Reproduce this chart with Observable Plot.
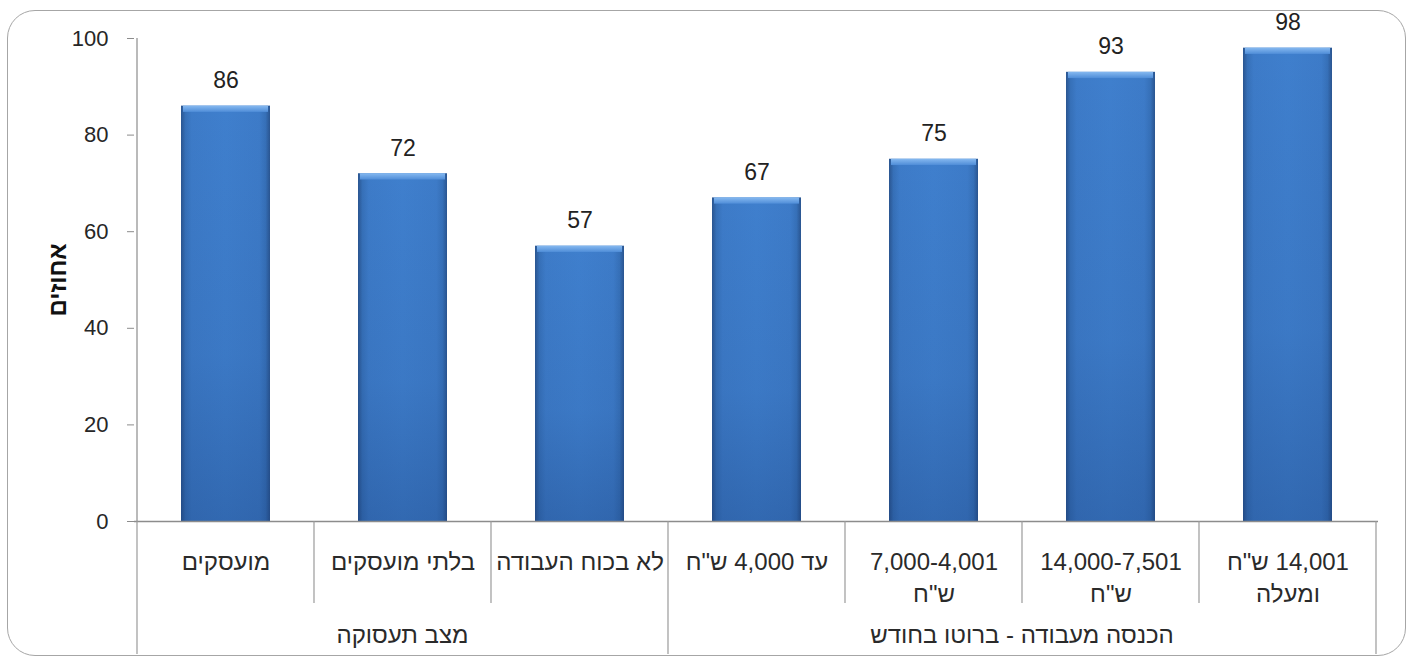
<!DOCTYPE html>
<html><head><meta charset="utf-8">
<script src="https://cdn.jsdelivr.net/npm/d3@7"></script>
<script src="https://cdn.jsdelivr.net/npm/@observablehq/plot@0.6"></script>
<style>
html,body{margin:0;padding:0;background:#fff;overflow:hidden}
#wrap{position:relative;width:1413px;height:662px}
#wrap svg{display:block}
#frame{position:absolute;left:7px;top:10px;width:1399px;height:646px;border:1.5px solid #a6a6a6;border-radius:28px;box-sizing:border-box;pointer-events:none}
</style></head><body><div id="wrap"><div id="frame"></div></div>
<script>
// ---- data ----
const categories = ["מועסקים", "בלתי מועסקים", "לא בכוח העבודה", "עד 4,000 ש\"ח", "7,000-4,001\nש\"ח", "14,000-7,501\nש\"ח", "14,001 ש\"ח\nומעלה"];
const values = [86, 72, 57, 67, 75, 93, 98];
const categoryGroups = ["מצב תעסוקה", "מצב תעסוקה", "מצב תעסוקה", "הכנסה מעבודה - ברוטו בחודש", "הכנסה מעבודה - ברוטו בחודש", "הכנסה מעבודה - ברוטו בחודש", "הכנסה מעבודה - ברוטו בחודש"];
const yTicks = [0, 20, 40, 60, 80, 100];
const yLabel = "אחוזים";

const data = categories.map((c, i) => ({category: c, value: values[i], group: categoryGroups[i]}));

const FONT = "'Liberation Sans', Arial, sans-serif";

// gradient definitions
function defs() {
  const g = d3.create("svg:g");
  const d = g.append("defs");
  const h = d.append("linearGradient").attr("id", "barH").attr("x1", 0).attr("x2", 1).attr("y1", 0).attr("y2", 0);
  [[0, "#2a5590"], [0.05, "#3670b8"], [0.12, "#3d7bc8"], [0.5, "#3f7fcd"], [0.88, "#3d7bc8"], [0.95, "#3670b8"], [1, "#2a5590"]]
    .forEach(([o, c]) => h.append("stop").attr("offset", o).attr("stop-color", c));
  const v = d.append("linearGradient").attr("id", "barV").attr("x1", 0).attr("x2", 0).attr("y1", 0).attr("y2", 1);
  [[0, "#10306a", 0], [0.6, "#10306a", 0.08], [1, "#10306a", 0.28]]
    .forEach(([o, c, a]) => v.append("stop").attr("offset", o).attr("stop-color", c).attr("stop-opacity", a));
  const t = d.append("linearGradient").attr("id", "barT").attr("x1", 0).attr("x2", 0).attr("y1", 0).attr("y2", 1);
  [[0, "#86b9f0"], [1, "#4f8dd8"]]
    .forEach(([o, c]) => t.append("stop").attr("offset", o).attr("stop-color", c));
  return g.node();
}

// hierarchical x axis: dividers, y-axis line, group labels
function decor(index, scales) {
  const x = scales.x, y = scales.y;
  const bw = x.bandwidth ? x.bandwidth() : 0;
  const centers = categories.map(c => x(c) + bw / 2);
  const step = centers[1] - centers[0];
  const bounds = centers.map(c => c - step / 2).concat([centers[centers.length - 1] + step / 2]);
  const y0 = y(0);
  const g = d3.create("svg:g").attr("fill", "none");
  // y axis line
  g.append("line").attr("x1", bounds[0]).attr("x2", bounds[0]).attr("y1", y(yTicks[yTicks.length - 1])).attr("y2", y0)
    .attr("stroke", "#8c8c8c").attr("stroke-width", 1.2);
  bounds.forEach((b, i) => {
    const outer = i === 0 || i === categories.length || categoryGroups[i] !== categoryGroups[i - 1];
    g.append("line").attr("x1", b).attr("x2", b).attr("y1", y0).attr("y2", y0 + (outer ? 133 : 82))
      .attr("stroke", "#9a9a9a").attr("stroke-width", 1.2);
  });
  const groups = [...new Set(categoryGroups)];
  groups.forEach(gn => {
    const idx = categoryGroups.map((c, i) => c === gn ? i : -1).filter(i => i >= 0);
    const cx = (bounds[idx[0]] + bounds[idx[idx.length - 1] + 1]) / 2;
    g.append("text").attr("x", cx).attr("y", y0 + 122).attr("text-anchor", "middle")
      .attr("fill", "#2a2a2a").attr("font-size", 24).attr("direction", "rtl").text(gn);
  });
  return g.node();
}

const chart = Plot.plot({
  width: 1413,
  height: 662,
  marginLeft: 134,
  marginRight: 35,
  marginTop: 38,
  marginBottom: 141,
  style: {fontFamily: FONT, fontSize: "22px", color: "#222", background: "transparent"},
  x: {domain: categories, paddingInner: 0.5, paddingOuter: 0.25, axis: null},
  y: {domain: [0, 100], axis: null},
  marks: [
    defs,
    Plot.axisY({ticks: yTicks, tickSize: 7, tickPadding: 19, stroke: "#8c8c8c", fill: "#262626", fontSize: 22, label: null}),
    Plot.barY(data, {x: "category", y: "value", fill: "url(#barH)"}),
    Plot.barY(data, {x: "category", y: "value", fill: "url(#barV)"}),
    Plot.barY(data, {x: "category", y1: d => d.value - 1.3, y2: "value", fill: "url(#barT)", insetLeft: 2, insetRight: 2}),
    Plot.ruleY([0], {stroke: "#8c8c8c", strokeWidth: 1.5}),
    decor,
    Plot.text(data, {x: "category", y: "value", text: d => String(d.value), lineAnchor: "bottom", dy: -18, fontSize: 23, fill: "#222"}),
    Plot.text(data, {x: "category", text: "category", frameAnchor: "bottom", lineAnchor: "top", dy: 26, lineHeight: 1.34, fontSize: 24, fill: "#2a2a2a"}),
    Plot.text([yLabel], {frameAnchor: "left", textAnchor: "middle", text: d => d, rotate: -90, dx: -76, fontSize: 24, fontWeight: "bold", fill: "#111"})
  ]
});

// Hebrew text reads right to left
d3.select(chart).selectAll("text").each(function () {
  if (/[\u0590-\u05FF]/.test(this.textContent)) this.setAttribute("direction", "rtl");
});

document.getElementById("wrap").prepend(chart);
</script>
</body></html>
